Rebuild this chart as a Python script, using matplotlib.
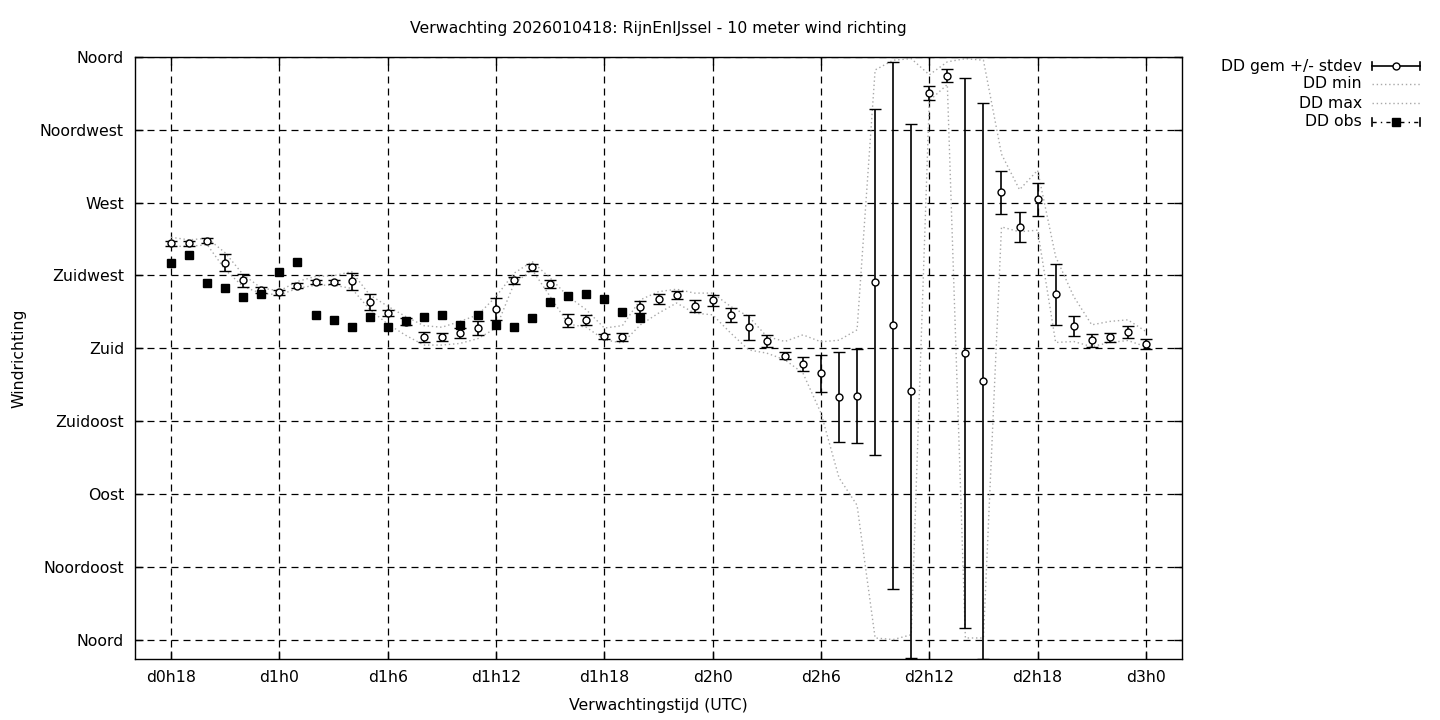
import numpy as np
import matplotlib
matplotlib.use("Agg")
import matplotlib.pyplot as plt
from matplotlib.lines import Line2D

# forecast hours (hours after d0h0)
hours = list(range(18, 73))

# ensemble mean wind direction (degrees) and stdev
dd_mean = [245.0, 245.0, 246.5, 233.0, 222.0, 216.0, 214.5, 218.6, 221.0, 221.0,
           221.5, 208.5, 201.7, 196.5, 187.0, 187.0, 189.4, 192.5, 204.2, 222.0,
           230.0, 219.8, 197.0, 197.4, 187.3, 187.0, 205.4, 210.4, 212.9, 206.2,
           209.8, 200.7, 193.1, 184.4, 175.4, 170.3, 164.6, 150.0, 150.3, 220.8,
           194.2, 153.7, 338.0, 348.5, 177.0, 159.8, 276.4, 254.8, 272.1, 213.5,
           193.7, 185.1, 186.7, 190.0, 182.6]
dd_std = [1.5, 1.5, 1.5, 5.5, 4.0, 2.0, 1.5, 1.5, 1.5, 1.5,
          5.3, 5.0, 2.0, 2.0, 3.0, 2.5, 3.0, 4.3, 6.8, 2.0,
          2.0, 2.5, 4.0, 3.0, 1.5, 2.5, 3.6, 3.0, 2.5, 3.5,
          3.4, 4.3, 7.7, 3.8, 2.0, 4.6, 11.5, 27.6, 29.0, 107.0,
          162.8, 165.0, 4.3, 4.0, 170.0, 171.5, 13.4, 9.3, 10.2, 18.8,
          6.2, 4.0, 3.0, 3.5, 3.0]
dd_min = [243.0, 243.0, 244.0, 228.5, 218.0, 214.0, 213.0, 217.0, 219.0, 219.0,
          217.0, 204.0, 195.0, 188.0, 182.0, 182.0, 183.0, 186.0, 192.5, 220.0,
          228.5, 212.0, 195.0, 193.0, 185.3, 183.2, 194.5, 201.7, 208.0, 201.7,
          200.7, 189.4, 179.0, 177.0, 172.9, 164.7, 140.0, 100.0, 83.0, 1.0,
          0.0, 3.0, 333.0, 343.0, 1.0, 1.0, 255.0, 252.0, 253.0, 183.6,
          184.2, 181.0, 183.6, 184.8, 181.0]
dd_max = [248.6, 247.0, 248.0, 239.0, 225.4, 217.2, 215.5, 221.3, 224.4, 224.8,
          227.4, 213.0, 206.0, 199.6, 194.0, 193.0, 196.6, 200.7, 212.0, 226.4,
          233.6, 223.4, 212.0, 203.8, 192.5, 194.0, 210.0, 215.0, 216.5, 214.1,
          214.1, 205.8, 199.6, 187.3, 184.2, 188.3, 184.0, 185.0, 191.4, 352.0,
          358.0, 359.0, 349.0, 357.0, 359.0, 358.0, 300.0, 278.0, 290.0, 236.7,
          212.0, 194.5, 196.6, 197.6, 190.4]

# observations (up to d1h20)
obs_hours = list(range(18, 45))
dd_obs = [232.6, 237.7, 220.3, 217.2, 211.6, 213.7, 227.4, 233.2, 200.3, 197.6,
          193.1, 199.3, 193.1, 196.6, 199.3, 200.5, 194.3, 200.5, 194.3, 193.1,
          198.7, 208.5, 212.2, 213.5, 210.4, 202.5, 198.7]

xtick_pos = [18, 24, 30, 36, 42, 48, 54, 60, 66, 72]
xtick_labels = ["d0h18", "d1h0", "d1h6", "d1h12", "d1h18", "d2h0", "d2h6",
                "d2h12", "d2h18", "d3h0"]
ytick_pos = [0, 45, 90, 135, 180, 225, 270, 315, 360]
ytick_labels = ["Noord", "Noordoost", "Oost", "Zuidoost", "Zuid", "Zuidwest",
                "West", "Noordwest", "Noord"]

plt.rcParams["font.family"] = "DejaVu Sans"
plt.rcParams["font.size"] = 11.3

fig = plt.figure(figsize=(14.4, 7.2), dpi=100)
ax = fig.add_axes([135 / 1440, 1 - 659 / 720, (1182 - 135) / 1440, (659 - 57) / 720])

grey = "#a8a8a8"
ax.plot(hours, dd_min, color=grey, ls=(0, (1, 2)), lw=1.0, zorder=2)
ax.plot(hours, dd_max, color=grey, ls=(0, (1, 2)), lw=1.0, zorder=2)

ax.errorbar(hours, dd_mean, yerr=dd_std, fmt="o", color="black", mfc="white",
            mec="black", ms=5, mew=1.0, elinewidth=1.2, capsize=4.5, capthick=1.2,
            zorder=3)
ax.plot(obs_hours, dd_obs, "s", color="black", ms=5.5, zorder=4)

ax.set_xlim(16, 74)
ax.set_ylim(-12, 360)
ax.set_xticks(xtick_pos)
ax.set_xticklabels(xtick_labels)
ax.set_yticks(ytick_pos)
ax.set_yticklabels(ytick_labels)
ax.tick_params(direction="in", length=6, width=1, top=True, right=True, pad=8)
ax.grid(True, color="black", ls=(0, (5.6, 4)), lw=0.9)
for s in ax.spines.values():
    s.set_linewidth(1.0)

ax.set_xlabel("Verwachtingstijd (UTC)", labelpad=9)
ax.set_ylabel("Windrichting", labelpad=10)
fig.text(658.5 / 1440, 1 - 29 / 720, "Verwachting 2026010418: RijnEnIJssel - 10 meter wind richting",
         ha="center", va="center")

# legend drawn gnuplot style: text right, sample on the right
names = ["DD gem +/- stdev", "DD min", "DD max", "DD obs"]
rows = [66, 84, 103, 122]
x0, x1 = 1372 / 1440, 1420 / 1440
xm = (x0 + x1) / 2
cap = 4 / 720
for name, r in zip(names, rows):
    y = 1 - r / 720
    fig.text(1362 / 1440, y, name, ha="right", va="center")
    if name == "DD gem +/- stdev":
        fig.add_artist(Line2D([x0, x1], [y, y], color="black", lw=1.2))
        for xe in (x0, x1):
            fig.add_artist(Line2D([xe, xe], [y - cap, y + cap], color="black", lw=1.2))
        fig.add_artist(Line2D([xm], [y], marker="o", ms=5, mfc="white", mec="black"))
    elif name == "DD obs":
        fig.add_artist(Line2D([x0, x1], [y, y], color="black", lw=1.0, ls=(0, (3, 3, 1, 3))))
        for xe in (x0, x1):
            fig.add_artist(Line2D([xe, xe], [y - cap, y + cap], color="black", lw=1.2))
        fig.add_artist(Line2D([xm], [y], marker="s", ms=5.5, color="black"))
    else:
        fig.add_artist(Line2D([x0, x1], [y, y], color=grey, lw=1.0, ls=(0, (1, 2))))

fig.savefig("out.png", dpi=100)
